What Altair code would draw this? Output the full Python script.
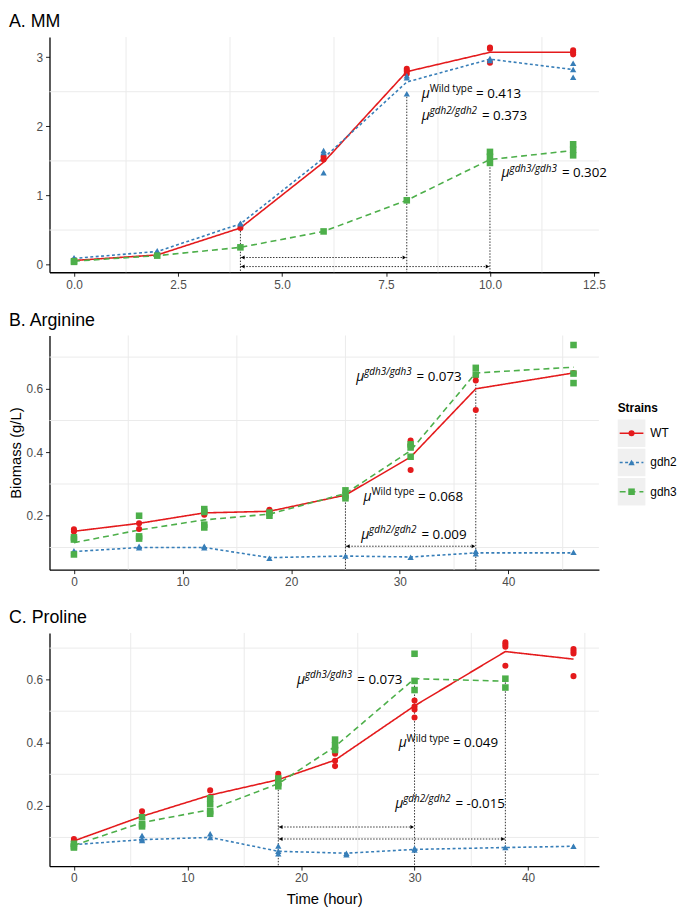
import altair as alt
import pandas as pd

# ---------------- data ----------------
STRAINS = ["WT", "gdh2", "gdh3"]
COLORS = ["#E41A1C", "#377EB8", "#4DAF4A"]
SHAPES = ["circle", "triangle-up", "square"]
DASHES = [[1, 0], [3, 2.5], [6, 4]]
LEGEND_TITLE = ["Strains"]
PANEL_TITLES = ["A. MM", "B. Arginine", "C. Proline"]

# Panel A: MM
A_TIME = [0, 2, 4, 6, 8, 10, 12]
A_WT_MEAN = [0.06, 0.14, 0.53, 1.48, 2.79, 3.07, 3.07]
A_GDH2_MEAN = [0.09, 0.19, 0.59, 1.54, 2.64, 2.97, 2.82]
A_GDH3_MEAN = [0.05, 0.13, 0.25, 0.48, 0.93, 1.52, 1.65]
A_WT_REPS = [[0.06, 0.06], [0.14], [0.53], [1.56, 1.52], [2.83, 2.80, 2.76],
             [3.14, 3.12, 2.92], [3.10, 3.07, 3.04]]
A_GDH2_REPS = [[0.10, 0.08], [0.20], [0.60, 0.59], [1.65, 1.62, 1.33],
               [2.73, 2.70, 2.47], [2.98, 2.95], [2.91, 2.82, 2.71]]
A_GDH3_REPS = [[0.05, 0.04], [0.13], [0.25], [0.48], [0.93],
               [1.63, 1.56, 1.47], [1.74, 1.66, 1.58]]

# Panel B: Arginine
B_TIME = [0, 6, 12, 18, 25, 31, 37, 46]
B_WT_MEAN = [0.151, 0.176, 0.209, 0.214, 0.265, 0.385, 0.600, 0.650]
B_GDH2_MEAN = [0.087, 0.100, 0.100, 0.068, 0.073, 0.070, 0.083, 0.083]
B_GDH3_MEAN = [0.115, 0.155, 0.187, 0.205, 0.270, 0.405, 0.650, 0.668]
B_WT_REPS = [[0.157, 0.150], [0.176, 0.158], [0.211, 0.203], [0.219, 0.211],
             [0.262, 0.256], [0.437, 0.425, 0.344], [0.640, 0.626, 0.533], [0.650]]
B_GDH2_REPS = [[0.090, 0.084], [0.104, 0.099], [0.104, 0.099], [0.066], [0.073],
               [0.069], [0.088, 0.080], [0.085]]
B_GDH3_REPS = [[0.132, 0.125, 0.078], [0.200, 0.135, 0.128], [0.221, 0.212, 0.172, 0.163],
               [0.210, 0.200], [0.280, 0.265, 0.255], [0.425, 0.415, 0.386],
               [0.666, 0.645], [0.738, 0.648, 0.618]]

# Panel C: Proline
C_WT_TIME = [0, 6, 12, 18, 23, 30, 38, 44]
C_GDH2_TIME = [0, 6, 12, 18, 24, 30, 38, 44]
C_GDH3_TIME = [0, 6, 12, 18, 23, 30, 38]
C_WT_MEAN = [0.089, 0.167, 0.234, 0.283, 0.345, 0.517, 0.689, 0.665]
C_GDH2_MEAN = [0.077, 0.093, 0.100, 0.056, 0.050, 0.062, 0.068, 0.072]
C_GDH3_MEAN = [0.075, 0.147, 0.188, 0.270, 0.388, 0.603, 0.595]
C_WT_REPS = [[0.095, 0.088], [0.183, 0.165], [0.249, 0.228], [0.302, 0.288, 0.270],
             [0.365, 0.343, 0.326], [0.534, 0.515, 0.505, 0.480],
             [0.718, 0.711, 0.704, 0.644], [0.697, 0.690, 0.683, 0.611]]
C_GDH2_REPS = [[0.080, 0.075], [0.106, 0.096, 0.090], [0.112, 0.100], [0.073, 0.056, 0.048],
               [0.050, 0.045], [0.066, 0.060], [0.068], [0.072]]
C_GDH3_REPS = [[0.080, 0.072, 0.068], [0.164, 0.142, 0.135], [0.224, 0.205, 0.183, 0.175],
               [0.287, 0.272, 0.262], [0.410, 0.392, 0.377], [0.682, 0.596, 0.567],
               [0.603, 0.575]]

# annotations
A_VLINE_T = [4, 8, 10]
A_VLINE_TOP = [0.53, 2.47, 1.45]
A_ARROW_FROM = [4, 4]
A_ARROW_TO = [8, 10]
A_ARROW_Y = [0.103, -0.028]
A_NOTE_SUP = ["Wild type", "gdh2/gdh2", "gdh3/gdh3"]
A_NOTE_VAL = ["0.413", "0.373", "0.302"]
A_NOTE_X = [8.36, 8.36, 10.28]
A_NOTE_Y = [2.414, 2.093, 1.26]

B_VLINE_T = [25, 37]
B_VLINE_TOP = [0.27, 0.66]
B_ARROW_FROM = [25]
B_ARROW_TO = [37]
B_ARROW_Y = [0.104]
B_NOTE_SUP = ["gdh3/gdh3", "Wild type", "gdh2/gdh2"]
B_NOTE_VAL = ["0.073", "0.068", "0.009"]
B_NOTE_X = [26.0, 26.67, 26.45]
B_NOTE_Y = [0.624, 0.247, 0.128]

C_VLINE_T = [18, 30, 38]
C_VLINE_TOP = [0.27, 0.60, 0.61]
C_ARROW_FROM = [18, 18]
C_ARROW_TO = [30, 38]
C_ARROW_Y = [0.133, 0.095]
C_NOTE_SUP = ["gdh3/gdh3", "Wild type", "gdh2/gdh2"]
C_NOTE_VAL = ["0.073", "0.049", "-0.015"]
C_NOTE_X = [19.65, 28.6, 28.3]
C_NOTE_Y = [0.586, 0.385, 0.193]

# axes / grid
A_XTICKS = [0, 2.5, 5, 7.5, 10, 12.5]
A_YTICKS = [0, 1, 2, 3]
A_XGRID = [1.25, 3.75, 6.25, 8.75, 11.25]
A_YGRID = [0.5, 1.5, 2.5]
BC_XTICKS = [0, 10, 20, 30, 40]
BC_YTICKS = [0.2, 0.4, 0.6]
BC_XGRID = [5, 15, 25, 35, 45]
BC_YGRID = [0.1, 0.3, 0.5, 0.7]

# ---------------- style ----------------
FONT = "Liberation Sans"
NOTE_FONT = "Open Sans"
GRID = "#ebebeb"
W = 556

color_scale = alt.Scale(domain=STRAINS, range=COLORS)
shape_scale = alt.Scale(domain=STRAINS, range=SHAPES)
dash_scale = alt.Scale(domain=STRAINS, range=DASHES)
size_scale = alt.Scale(domain=STRAINS, range=[38, 44, 36])


def means_df(times, means):
    rows = []
    for s in STRAINS:
        for t, v in zip(times[s], means[s]):
            rows.append({"strain": s, "t": t, "v": v})
    return pd.DataFrame(rows)


def reps_df(times, reps):
    rows = []
    for s in STRAINS:
        for t, vals in zip(times[s], reps[s]):
            for v in vals:
                rows.append({"strain": s, "t": t, "v": v})
    return pd.DataFrame(rows)


def title_mark(text):
    return alt.Chart(pd.DataFrame({"t": [text]})).mark_text(
        align="left", baseline="top", fontSize=18, font=FONT, color="black"
    ).encode(x=alt.value(-41), y=alt.value(-24), text="t:N")


def make_layers(times, means, reps, xdom, ydom, xticks, xfmt, yticks, yfmt,
                xgrid, ygrid, vt, vtop, afrom, ato, ay, nsup, nval, nx, ny,
                xtitle=None, ytitle=None):
    xs = alt.Scale(domain=xdom, nice=False, zero=False)
    ys = alt.Scale(domain=ydom, nice=False, zero=False)
    common = dict(grid=False, domainColor="black", domainWidth=1.3, tickColor="#222222",
                  tickWidth=1, tickSize=4, labelColor="#4d4d4d", labelFontSize=12,
                  labelFont=FONT, labelPadding=3, labelFlush=False, labelOverlap=False,
                  titleFont=FONT, titleFontSize=15, titleFontWeight="normal",
                  titleColor="black")
    xaxis = alt.Axis(values=xticks, format=xfmt, titlePadding=8, **common)
    yaxis = alt.Axis(values=yticks, format=yfmt, titlePadding=3, **common)

    def X(f):
        return alt.X(f, type="quantitative", scale=xs, axis=xaxis, title=xtitle)

    def Y(f):
        return alt.Y(f, type="quantitative", scale=ys, axis=yaxis, title=ytitle)

    gx = alt.Chart(pd.DataFrame({"g": xgrid})).mark_rule(color=GRID, strokeWidth=1).encode(x=X("g"))
    gy = alt.Chart(pd.DataFrame({"g": ygrid})).mark_rule(color=GRID, strokeWidth=1).encode(y=Y("g"))

    vdf = pd.DataFrame({"t": vt, "top": vtop, "bot": [ydom[0]] * len(vt)})
    vl = alt.Chart(vdf).mark_rule(color="black", strokeWidth=0.8, strokeDash=[1.5, 1.5]).encode(
        x=X("t"), y=Y("top"), y2="bot")

    adf = pd.DataFrame({"a": afrom, "b": ato, "y": ay})
    ar = alt.Chart(adf).mark_rule(color="black", strokeWidth=0.8, strokeDash=[1.5, 1.5]).encode(
        x=X("a"), x2="b", y=Y("y"))
    ahl = alt.Chart(adf).mark_point(shape="triangle-left", filled=True, size=16, color="black",
                                    opacity=1, xOffset=2.5).encode(x=X("a"), y=Y("y"))
    ahr = alt.Chart(adf).mark_point(shape="triangle-right", filled=True, size=16, color="black",
                                    opacity=1, xOffset=-2.5).encode(x=X("b"), y=Y("y"))

    color = alt.Color("strain:N", scale=color_scale, legend=None)
    ln = alt.Chart(means_df(times, means)).mark_line(strokeWidth=1.6).encode(
        x=X("t"), y=Y("v"), color=color,
        strokeDash=alt.StrokeDash("strain:N", scale=dash_scale, legend=None))
    pt = alt.Chart(reps_df(times, reps)).mark_point(filled=True, opacity=1).encode(
        x=X("t"), y=Y("v"), color=color,
        shape=alt.Shape("strain:N", scale=shape_scale, legend=None),
        size=alt.Size("strain:N", scale=size_scale, legend=None))

    ndf = pd.DataFrame({"x": nx, "y": ny, "sup": nsup, "eq": ["= " + v for v in nval]})
    ndf["kind"] = ["wt" if s == "Wild type" else "gdh" for s in nsup]
    base = alt.Chart(ndf).encode(x=X("x"), y=Y("y"))
    tx = dict(font=NOTE_FONT, align="left", baseline="alphabetic", color="black")
    mu = base.mark_text(text="\u03bc", fontSize=14, fontStyle="italic", **tx)
    sup_wt = base.transform_filter("datum.kind == 'wt'").mark_text(
        fontSize=10, dx=8, dy=-6, **tx).encode(text="sup:N")
    sup_g = base.transform_filter("datum.kind == 'gdh'").mark_text(
        fontSize=10, dx=8, dy=-6, fontStyle="italic", **tx).encode(text="sup:N")
    eq_wt = base.transform_filter("datum.kind == 'wt'").mark_text(
        fontSize=13.5, dx=55, **tx).encode(text="eq:N")
    eq_g = base.transform_filter("datum.kind == 'gdh'").mark_text(
        fontSize=13.5, dx=61, **tx).encode(text="eq:N")

    return alt.layer(gx, gy, vl, ar, ahl, ahr, ln, pt, mu, sup_wt, sup_g, eq_wt, eq_g)


panel_a = alt.layer(make_layers(
    {"WT": A_TIME, "gdh2": A_TIME, "gdh3": A_TIME},
    {"WT": A_WT_MEAN, "gdh2": A_GDH2_MEAN, "gdh3": A_GDH3_MEAN},
    {"WT": A_WT_REPS, "gdh2": A_GDH2_REPS, "gdh3": A_GDH3_REPS},
    [-0.59, 12.62], [-0.11, 3.29], A_XTICKS, ".1f", A_YTICKS, "d", A_XGRID, A_YGRID,
    A_VLINE_T, A_VLINE_TOP, A_ARROW_FROM, A_ARROW_TO, A_ARROW_Y,
    A_NOTE_SUP, A_NOTE_VAL, A_NOTE_X, A_NOTE_Y
), title_mark(PANEL_TITLES[0])).properties(width=W, height=238)

panel_b_core = make_layers(
    {"WT": B_TIME, "gdh2": B_TIME, "gdh3": B_TIME},
    {"WT": B_WT_MEAN, "gdh2": B_GDH2_MEAN, "gdh3": B_GDH3_MEAN},
    {"WT": B_WT_REPS, "gdh2": B_GDH2_REPS, "gdh3": B_GDH3_REPS},
    [-2.25, 48.34], [0.03, 0.768], BC_XTICKS, "d", BC_YTICKS, ".1f", BC_XGRID, BC_YGRID,
    B_VLINE_T, B_VLINE_TOP, B_ARROW_FROM, B_ARROW_TO, B_ARROW_Y,
    B_NOTE_SUP, B_NOTE_VAL, B_NOTE_X, B_NOTE_Y, ytitle="Biomass (g/L)")

panel_c = alt.layer(make_layers(
    {"WT": C_WT_TIME, "gdh2": C_GDH2_TIME, "gdh3": C_GDH3_TIME},
    {"WT": C_WT_MEAN, "gdh2": C_GDH2_MEAN, "gdh3": C_GDH3_MEAN},
    {"WT": C_WT_REPS, "gdh2": C_GDH2_REPS, "gdh3": C_GDH3_REPS},
    [-2.15, 46.24], [0.009, 0.748], BC_XTICKS, "d", BC_YTICKS, ".1f", BC_XGRID, BC_YGRID,
    C_VLINE_T, C_VLINE_TOP, C_ARROW_FROM, C_ARROW_TO, C_ARROW_Y,
    C_NOTE_SUP, C_NOTE_VAL, C_NOTE_X, C_NOTE_Y, xtitle="Time (hour)"
), title_mark(PANEL_TITLES[2])).properties(width=W, height=236)

# ---------------- legend (built from the strain list, right of panel B) ----------------
LX = W + 19  # legend key left edge, in pixels from the plot's left edge
leg_df = pd.DataFrame({"strain": STRAINS})
leg_y = alt.Scale(type="band", domain=STRAINS, range=[85, 172], paddingInner=0.06, paddingOuter=0)
leg_base = alt.Chart(leg_df)
leg_rect = leg_base.mark_rect(color="#f0f0f0").encode(
    x=alt.value(LX), x2=alt.value(LX + 28), y=alt.Y("strain:N", scale=leg_y, axis=None))
yc = alt.Y("strain:N", scale=leg_y, axis=None, bandPosition=0.5)
leg_line = leg_base.mark_rule(strokeWidth=1.6).encode(
    x=alt.value(LX + 2), x2=alt.value(LX + 26), y=yc,
    color=alt.Color("strain:N", scale=color_scale, legend=None),
    strokeDash=alt.StrokeDash("strain:N", scale=dash_scale, legend=None))
leg_pt = leg_base.mark_point(filled=True, opacity=1).encode(
    x=alt.value(LX + 14), y=yc,
    color=alt.Color("strain:N", scale=color_scale, legend=None),
    shape=alt.Shape("strain:N", scale=shape_scale, legend=None),
    size=alt.Size("strain:N", scale=size_scale, legend=None))
leg_txt = leg_base.mark_text(align="left", baseline="middle", fontSize=12, font=FONT,
                             color="black").encode(x=alt.value(LX + 33), y=yc, text="strain:N")
leg_title = alt.Chart(pd.DataFrame({"t": LEGEND_TITLE})).mark_text(
    align="left", baseline="middle", fontSize=12, fontWeight="bold", font=FONT,
    color="black").encode(x=alt.value(LX), y=alt.value(73), text="t:N")
legend = alt.layer(leg_rect, leg_line, leg_pt, leg_txt, leg_title, title_mark(PANEL_TITLES[1]))

panel_b = alt.layer(panel_b_core, legend).resolve_scale(y="independent").properties(
    width=W, height=237)

chart = alt.vconcat(panel_a, panel_b, panel_c, spacing=64, bounds="flush").resolve_scale(
    x="independent", y="independent").properties(padding=0)
chart = chart.configure(font=FONT).configure_view(strokeWidth=0)

chart.save("out.html", embed_options={"renderer": "svg", "actions": False})
